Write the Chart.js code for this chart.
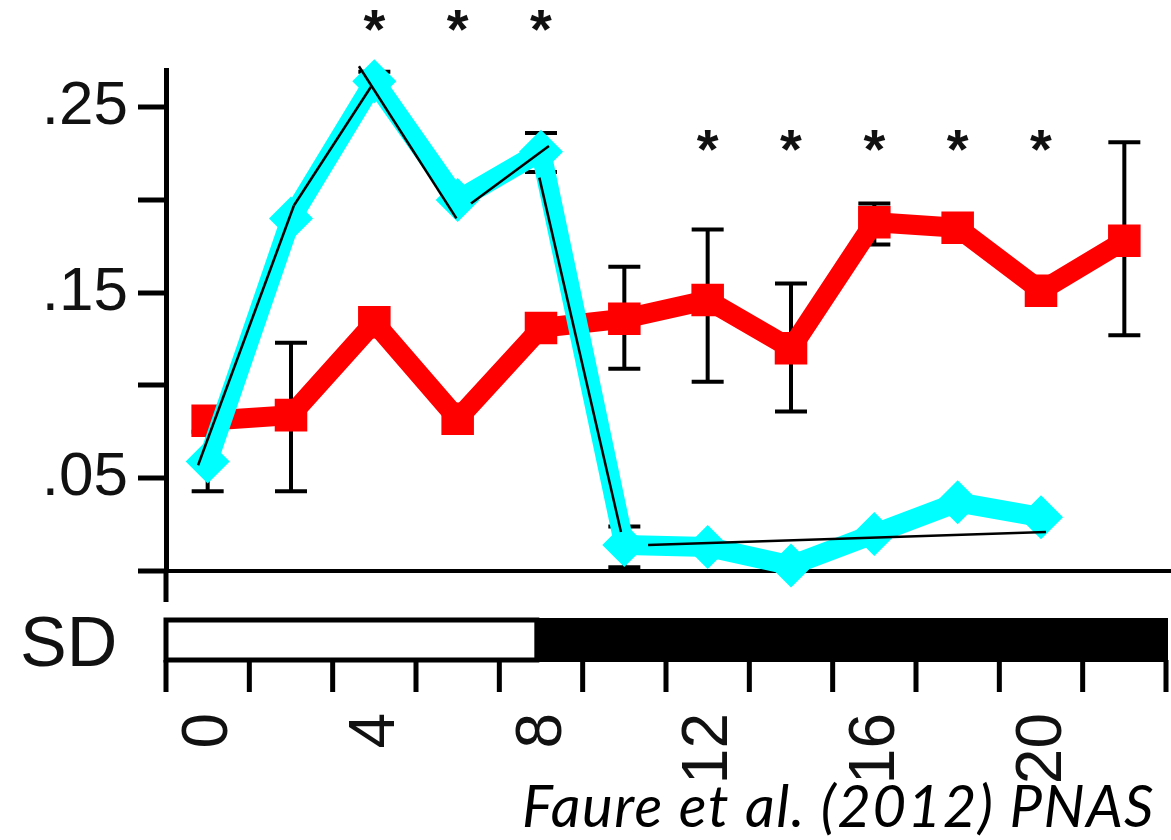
<!DOCTYPE html>
<html>
<head>
<meta charset="utf-8">
<title>Faure et al. (2012)</title>
<script src="https://cdn.jsdelivr.net/npm/chart.js@4.4.1/dist/chart.umd.min.js"></script>
<style>
  html, body { margin: 0; padding: 0; background: #fff; }
  .wrap { position: relative; width: 1171px; height: 840px; overflow: hidden; }
  canvas { display: block; }
  .cite {
    position: absolute; right: 16px; bottom: 1px;
    font-family: Lato, 'Open Sans', sans-serif; font-style: italic;
    font-size: 58px; letter-spacing: 1.5px; color: #000; white-space: nowrap;
  }
</style>
</head>
<body>
<div class="wrap">
  <canvas id="chart" width="1171" height="840"></canvas>
  <div class="cite">Faure et al. (2012) PNAS</div>
</div>
<script>
// hours of sampling
const hours = [0, 2, 4, 6, 8, 10, 12, 14, 16, 18, 20, 22];

// red series (squares) with error bars
const redMean    = [0.081, 0.084, 0.134, 0.082, 0.131, 0.136, 0.146, 0.120, 0.188, 0.185, 0.151, 0.178];
const redErrHigh = [null, 0.123, null, null, null, 0.164, 0.184, 0.155, 0.198, null, null, 0.231];
const redErrLow  = [null, 0.043, null, null, null, 0.109, 0.102, 0.086, 0.176, null, null, 0.127];

// cyan series (diamonds), no value at 22
const cyanMean    = [0.059, 0.190, 0.264, 0.200, 0.226, 0.014, 0.013, 0.003, 0.020, 0.037, 0.029];
const cyanErrHigh = [0.075, null, 0.269, null, 0.236, 0.024, null, null, null, null, null];
const cyanErrLow  = [0.043, null, 0.258, null, 0.215, 0.002, null, null, null, null, null];

// thin black trend segments: [x1, y1, x2, y2]
const trendSegments = [
  [-0.23, 0.057, 2.07, 0.197],
  [2.07, 0.197, 3.92, 0.261],
  [3.63, 0.272, 5.97, 0.190],
  [6.32, 0.198, 8.19, 0.229],
  [7.96, 0.212, 9.92, 0.021],
  [10.57, 0.014, 20.12, 0.021],
];

// significance stars
const starHours  = [4, 6, 8, 12, 14, 16, 18, 20];
const starLevels = [0.295, 0.295, 0.295, 0.230, 0.230, 0.230, 0.230, 0.230];

// axis ticks
const xLabelHours = [0, 4, 8, 12, 16, 20];
const xTickHours = [-1, 1, 3, 5, 7, 9, 11, 13, 15, 17, 19, 21, 23];
const yTickLabels = { 5: '.05', 15: '.15', 25: '.25' };

// light/dark bar
const lightStart = -1;
const lightsOff = 7.9;
const darkEnd = 23;

const AXIS_FONT = "'Liberation Sans', Arial, sans-serif";

function errorBars(ctx, x, y, xs, hi, lo) {
  xs.forEach((h, i) => {
    if (hi[i] == null || lo[i] == null) return;
    const px = x.getPixelForValue(h);
    const top = y.getPixelForValue(hi[i]);
    const bot = y.getPixelForValue(lo[i]);
    ctx.beginPath();
    ctx.moveTo(px, top); ctx.lineTo(px, bot);
    ctx.moveTo(px - 16, top); ctx.lineTo(px + 16, top);
    ctx.moveTo(px - 16, bot); ctx.lineTo(px + 16, bot);
    ctx.stroke();
  });
}

const extras = {
  id: 'extras',
  beforeDatasetsDraw(chart) {
    const { ctx, scales: { x, y } } = chart;
    ctx.save();
    ctx.strokeStyle = '#000';
    ctx.lineWidth = 4;
    errorBars(ctx, x, y, hours, redErrHigh, redErrLow);
    errorBars(ctx, x, y, hours.slice(0, cyanMean.length), cyanErrHigh, cyanErrLow);
    ctx.restore();
  },
  afterDraw(chart) {
    const { ctx, chartArea, scales: { x, y } } = chart;
    ctx.save();

    // y axis runs a bit below the x axis
    ctx.strokeStyle = '#000';
    ctx.lineWidth = 5;
    ctx.beginPath();
    ctx.moveTo(chartArea.left, y.getPixelForValue(0));
    ctx.lineTo(chartArea.left, 602);
    ctx.stroke();

    // light / dark bar
    const barTop = 618, barBot = 662;
    const xs = x.getPixelForValue(lightStart);
    const xo = x.getPixelForValue(lightsOff);
    const xe = x.getPixelForValue(darkEnd) + 2;
    ctx.fillStyle = '#000';
    ctx.fillRect(xo, barTop, xe - xo, barBot - barTop);
    ctx.lineWidth = 5;
    ctx.strokeRect(xs, barTop + 2, xo - xs, barBot - barTop - 4);

    // tick marks under the bar
    ctx.lineWidth = 5;
    ctx.beginPath();
    xTickHours.forEach((h) => {
      const px = x.getPixelForValue(h);
      ctx.moveTo(px, barBot - 2);
      ctx.lineTo(px, 692);
    });
    ctx.stroke();

    // hour labels, rotated, reading upwards, top-aligned
    ctx.fillStyle = '#111';
    ctx.font = `64px ${AXIS_FONT}`;
    ctx.textAlign = 'right';
    ctx.textBaseline = 'middle';
    xLabelHours.forEach((h) => {
      ctx.save();
      ctx.translate(x.getPixelForValue(h), 713);
      ctx.rotate(-Math.PI / 2);
      ctx.fillText(String(h), 0, 2);
      ctx.restore();
    });

    // SD label
    ctx.font = `70px ${AXIS_FONT}`;
    ctx.textAlign = 'left';
    ctx.textBaseline = 'alphabetic';
    ctx.fillText('SD', 20, 666);

    // stars
    ctx.font = `bold 56px ${AXIS_FONT}`;
    ctx.textAlign = 'center';
    starHours.forEach((h, i) => {
      const px = x.getPixelForValue(h);
      const py = y.getPixelForValue(starLevels[i]);
      ctx.fillText('*', px, py + 24);
    });
    ctx.restore();
  },
};

const datasets = [];
trendSegments.forEach((s) => {
  datasets.push({
    data: [{ x: s[0], y: s[1] }, { x: s[2], y: s[3] }],
    showLine: true,
    borderColor: '#000',
    borderWidth: 2.5,
    pointRadius: 0,
    clip: false,
    order: 0,
  });
});
datasets.push({
  label: 'cyan',
  data: cyanMean.map((v, i) => ({ x: hours[i], y: v })),
  showLine: true,
  borderColor: '#00ffff',
  backgroundColor: '#00ffff',
  borderWidth: 20,
  pointStyle: 'rectRot',
  pointRadius: 22,
  pointBorderWidth: 0,
  clip: false,
  order: 1,
});
datasets.push({
  label: 'red',
  data: redMean.map((v, i) => ({ x: hours[i], y: v })),
  showLine: true,
  borderColor: '#ff0000',
  backgroundColor: '#ff0000',
  borderWidth: 20,
  pointStyle: 'rect',
  pointRadius: 23,
  pointBorderWidth: 0,
  clip: false,
  order: 2,
});

new Chart(document.getElementById('chart'), {
  type: 'scatter',
  data: { datasets },
  plugins: [extras],
  options: {
    responsive: false,
    animation: false,
    layout: { autoPadding: false, padding: { top: 70, right: 0, bottom: 0, left: 0 } },
    plugins: { legend: { display: false }, tooltip: { enabled: false } },
    scales: {
      x: {
        type: 'linear',
        min: -1,
        max: 23.12,
        afterFit: (s) => { s.height = 269; },
        grid: { display: false },
        border: { display: false },
        ticks: { display: false },
      },
      y: {
        min: 0,
        max: 0.27,
        afterFit: (s) => { s.width = 166; },
        border: { display: true, color: '#000', width: 5 },
        grid: {
          color: (c) => (c.tick && Math.abs(c.tick.value) < 1e-9 ? '#000' : 'rgba(0,0,0,0)'),
          lineWidth: 4,
          tickColor: '#000',
          tickWidth: 5,
          tickLength: 28,
        },
        ticks: {
          stepSize: 0.05,
          includeBounds: false,
          padding: 10,
          color: '#111',
          font: { family: AXIS_FONT, size: 62 },
          callback: (v) => yTickLabels[Math.round(v * 100)] || '',
        },
      },
    },
  },
});
</script>
</body>
</html>
